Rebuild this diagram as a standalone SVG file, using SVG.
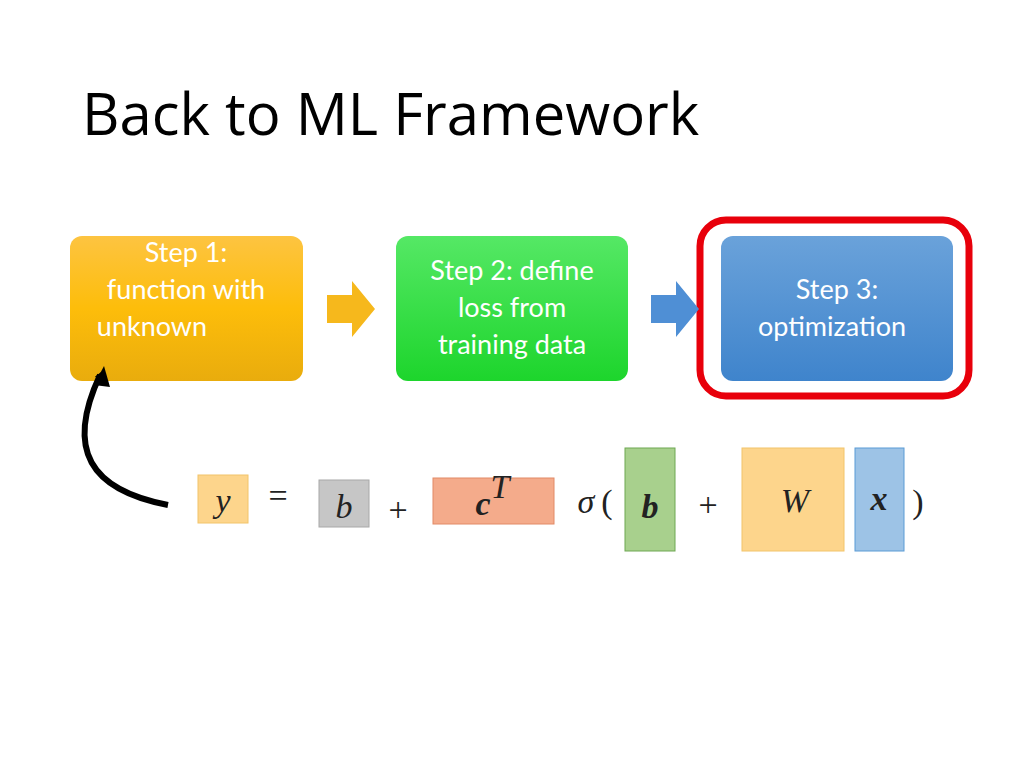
<svg xmlns="http://www.w3.org/2000/svg" width="1024" height="768" viewBox="0 0 1024 768">
<style>
.t{font-family:Lato,"Liberation Sans",sans-serif;font-size:27px;fill:#fff;text-anchor:middle}
.m{font-family:"Liberation Serif",serif;font-style:italic;font-size:34px;fill:#222;text-anchor:middle}
.b{font-weight:bold}
.o{font-family:"Liberation Serif",serif;font-size:34px;fill:#222;text-anchor:middle}
</style>
<defs>
<linearGradient id="gy" x1="0" y1="0" x2="0" y2="1"><stop offset="0" stop-color="#fdc441"/><stop offset="0.5" stop-color="#fdbd0a"/><stop offset="1" stop-color="#e9ac0d"/></linearGradient>
<linearGradient id="gg" x1="0" y1="0" x2="0" y2="1"><stop offset="0" stop-color="#55e865"/><stop offset="1" stop-color="#1dd52c"/></linearGradient>
<linearGradient id="gb" x1="0" y1="0" x2="0" y2="1"><stop offset="0" stop-color="#6aa2da"/><stop offset="1" stop-color="#3f84cc"/></linearGradient>
<marker id="ah" markerWidth="8" markerHeight="8" refX="4" refY="4" orient="auto" markerUnits="userSpaceOnUse" viewBox="0 0 8 8"><path d="M0,0 L8,4 L0,8 z" fill="#000"/></marker>
</defs>
<rect width="1024" height="768" fill="#fff"/>
<text x="82" y="135" font-family="'Open Sans','Noto Sans',sans-serif" font-size="58" fill="#000">Back to ML Framework</text>
<g id="step1"><rect x="70" y="236" width="233" height="145" rx="12" fill="url(#gy)"/>
<text class="t" x="186" y="262">Step 1:</text><text class="t" x="186" y="299">function with</text><text class="t" x="152" y="336">unknown</text></g>
<g id="step2"><rect x="396" y="236" width="232" height="145" rx="12" fill="url(#gg)"/>
<text class="t" x="512" y="280">Step 2: define</text><text class="t" x="512" y="317">loss from</text><text class="t" x="512" y="354">training data</text></g>
<g id="step3"><rect x="700" y="220" width="269" height="176" rx="26" fill="none" stroke="#e8000b" stroke-width="7"/>
<rect x="721" y="236" width="232" height="145" rx="12" fill="url(#gb)"/>
<text class="t" x="837" y="299">Step 3:</text><text class="t" x="832" y="336">optimization</text></g>
<g id="connectors">
<path d="M327,295 H352 V281 L375,309 L352,337 V323 H327 z" fill="#f6b81c"/>
<path d="M651,295 H676 V281 L699,309 L676,337 V323 H651 z" fill="#4f8fd5"/>
<path d="M168,505 C90,490 65,450 100,375" fill="none" stroke="#000" stroke-width="6" marker-end="url(#ah)"/>
<path d="M94,385 L104,366 L110,387 z" fill="#000"/>
</g>
<g id="formula">
<rect x="198" y="475" width="50" height="48" fill="#fdd58c" stroke="#f2c46a"/>
<text class="m" x="223" y="512">y</text>
<text class="o" x="278" y="507">=</text>
<rect x="319" y="480" width="50" height="47" fill="#c6c6c6" stroke="#a8a8a8"/>
<text class="m" x="344" y="518">b</text>
<text class="o" x="398" y="521" font-size="28">+</text>
<rect x="433" y="478" width="121" height="46" fill="#f4ab8b" stroke="#e28a66"/>
<text class="m b" x="483" y="515">c</text><text class="m" x="500" y="498" font-size="22">T</text>
<text class="m" x="586" y="513">σ</text><text class="o" x="607" y="513">(</text>
<rect x="625" y="448" width="50" height="103" fill="#a8d08d" stroke="#6ea852"/>
<text class="m b" x="650" y="518">b</text>
<text class="o" x="708" y="516" font-size="28">+</text>
<rect x="742" y="448" width="102" height="103" fill="#fdd58c" stroke="#f2c46a"/>
<text class="m" x="795" y="512">W</text>
<rect x="855" y="448" width="49" height="103" fill="#9dc3e6" stroke="#5b9bd5"/>
<text class="m b" x="879" y="510">x</text>
<text class="o" x="918" y="513">)</text>
</g>
</svg>
